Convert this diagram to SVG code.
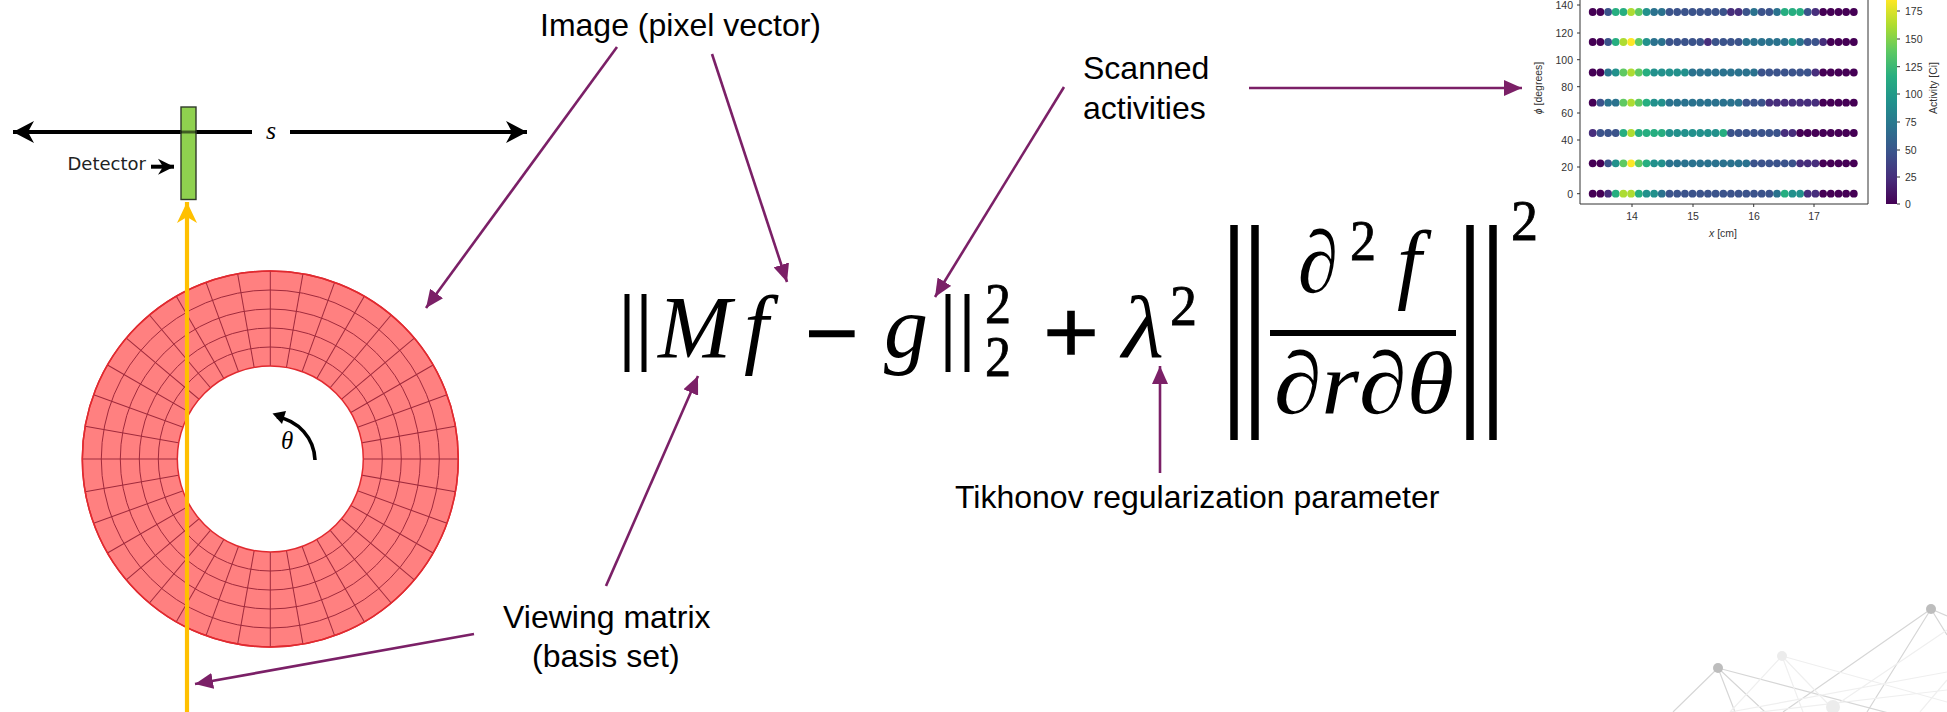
<svg xmlns="http://www.w3.org/2000/svg" width="1947" height="712" viewBox="0 0 1947 712">
<style>
text{font-family:"Liberation Sans",Arial,sans-serif}
.lab{font-size:32px;fill:#000}
.m{font-family:"Liberation Serif","Times New Roman",serif;font-style:italic;fill:#000}
.n{font-family:"Liberation Serif","Times New Roman",serif;fill:#000}
.hv{stroke:#000;stroke-width:.8}
.op{stroke:#000;stroke-width:2.6}
.t{font-family:"DejaVu Sans",sans-serif;font-size:10.5px;fill:#333}
.bar{stroke:#000;fill:none}
.pu{stroke:#7b2067;stroke-width:2.6;fill:none;marker-end:url(#pa)}
.bk{stroke:#000;stroke-width:4;fill:none}
.sp{stroke:#a02a3c;stroke-width:1}
.rg{fill:none;stroke:#a02a3c;stroke-width:1}
.tk{stroke:#333;stroke-width:1}
.nw{stroke:#d6d6d6;stroke-width:1.2;fill:none}
.nf{stroke:#efefef;stroke-width:1.2;fill:none}
circle.a,circle.b,circle.c,circle.d,circle.e,circle.f,circle.g,circle.h,circle.i{r:3.9px}
.a{fill:#440154}.b{fill:#472d7b}.c{fill:#3b528b}.d{fill:#2c728e}.e{fill:#21918c}.f{fill:#28ae80}.g{fill:#5ec962}.h{fill:#addc30}.i{fill:#fde725}
</style>
<defs>
<marker id="pa" markerUnits="userSpaceOnUse" markerWidth="20" markerHeight="16" refX="18" refY="8" orient="auto"><path d="M0 0L18 8L0 16Z" fill="#7b2067"/></marker>
<marker id="ba" markerUnits="userSpaceOnUse" markerWidth="24" markerHeight="24" refX="21" refY="12" orient="auto"><path d="M0 1L21 12L0 23L6 12Z" fill="#000"/></marker>
<marker id="ya" markerUnits="userSpaceOnUse" markerWidth="24" markerHeight="24" refX="21" refY="12" orient="auto"><path d="M0 2L21 12L0 22L6 12Z" fill="#ffc000"/></marker>
<marker id="bs" markerUnits="userSpaceOnUse" markerWidth="18" markerHeight="18" refX="16" refY="9" orient="auto"><path d="M0 1L16 9L0 17L5 9Z" fill="#000"/></marker>
<linearGradient id="vir" x1="0" y1="1" x2="0" y2="0"><stop offset="0" stop-color="#440154"/><stop offset=".125" stop-color="#472d7b"/><stop offset=".25" stop-color="#3b528b"/><stop offset=".375" stop-color="#2c728e"/><stop offset=".5" stop-color="#21918c"/><stop offset=".625" stop-color="#28ae80"/><stop offset=".75" stop-color="#5ec962"/><stop offset=".875" stop-color="#addc30"/><stop offset="1" stop-color="#fde725"/></linearGradient>
<filter id="soft" x="-5%" y="-5%" width="110%" height="110%"><feGaussianBlur stdDeviation="0.5"/></filter>
</defs>
<rect width="1947" height="712" fill="#fff"/>
<g id="network-backdrop">
<path class="nw" d="M1718 668L1673 712M1718 668L1735 712M1718 668L1765 712M1718 668L1900 716M1931 609L1783 712M1931 609L1867 712M1931 609L1947 616M1931 609L1947 635"/>
<path class="nf" d="M1782 656L1730 712M1782 656L1803 712M1782 656L1830 706M1782 656L1947 702M1947 630L1833 707M1947 672L1730 712M1947 690L1760 712M1947 680L1920 712"/>
<circle cx="1718" cy="668" r="5" fill="#bdbdbd"/><circle cx="1931" cy="609" r="5" fill="#bdbdbd"/><circle cx="1782" cy="656" r="5" fill="#ececec"/><circle cx="1833" cy="707" r="7" fill="#ececec"/>
</g>
<g id="ring">
<circle cx="270.3" cy="459" r="188" fill="#ff8080" stroke="#e02a30" stroke-width="1.5"/>
<g class="sp">
<line x1="82.3" y1="459" x2="458.3" y2="459" transform="rotate(0 270.3 459)"/>
<line x1="82.3" y1="459" x2="458.3" y2="459" transform="rotate(10 270.3 459)"/>
<line x1="82.3" y1="459" x2="458.3" y2="459" transform="rotate(20 270.3 459)"/>
<line x1="82.3" y1="459" x2="458.3" y2="459" transform="rotate(30 270.3 459)"/>
<line x1="82.3" y1="459" x2="458.3" y2="459" transform="rotate(40 270.3 459)"/>
<line x1="82.3" y1="459" x2="458.3" y2="459" transform="rotate(50 270.3 459)"/>
<line x1="82.3" y1="459" x2="458.3" y2="459" transform="rotate(60 270.3 459)"/>
<line x1="82.3" y1="459" x2="458.3" y2="459" transform="rotate(70 270.3 459)"/>
<line x1="82.3" y1="459" x2="458.3" y2="459" transform="rotate(80 270.3 459)"/>
<line x1="82.3" y1="459" x2="458.3" y2="459" transform="rotate(90 270.3 459)"/>
<line x1="82.3" y1="459" x2="458.3" y2="459" transform="rotate(100 270.3 459)"/>
<line x1="82.3" y1="459" x2="458.3" y2="459" transform="rotate(110 270.3 459)"/>
<line x1="82.3" y1="459" x2="458.3" y2="459" transform="rotate(120 270.3 459)"/>
<line x1="82.3" y1="459" x2="458.3" y2="459" transform="rotate(130 270.3 459)"/>
<line x1="82.3" y1="459" x2="458.3" y2="459" transform="rotate(140 270.3 459)"/>
<line x1="82.3" y1="459" x2="458.3" y2="459" transform="rotate(150 270.3 459)"/>
<line x1="82.3" y1="459" x2="458.3" y2="459" transform="rotate(160 270.3 459)"/>
<line x1="82.3" y1="459" x2="458.3" y2="459" transform="rotate(170 270.3 459)"/>
</g>
<circle class="rg" cx="270.3" cy="459" r="112"/><circle class="rg" cx="270.3" cy="459" r="131"/><circle class="rg" cx="270.3" cy="459" r="150"/><circle class="rg" cx="270.3" cy="459" r="169"/>
<circle cx="270.3" cy="459" r="188" fill="none" stroke="#e02a30" stroke-width="1.5"/>
<circle cx="270.3" cy="459" r="93" fill="#fff" stroke="#e02a30" stroke-width="1.5"/>
<path d="M315 460A45 45 0 0 0 277 417" fill="none" stroke="#000" stroke-width="3.6"/>
<path d="M272.5 413.5L286 411L282 424Z" fill="#000"/>
<text class="m" x="281" y="449" font-size="25">θ</text>
</g>
<g id="detector">
<line class="bk" x1="252" y1="132" x2="13" y2="132" marker-end="url(#ba)"/>
<line class="bk" x1="290" y1="132" x2="527" y2="132" marker-end="url(#ba)"/>
<rect x="181" y="107" width="15" height="92.5" fill="#8fd14f" stroke="#2f3a2a" stroke-width="1.4"/>
<line x1="181" y1="132" x2="196" y2="132" stroke="#000" stroke-width="3" opacity=".55"/>
<text class="m" x="266" y="139" font-size="26">s</text>
<text id="t-detector" x="67.5" y="170" style="font-family:'DejaVu Sans',sans-serif;font-size:18px;fill:#222">Detector</text>
<line x1="151" y1="166.7" x2="174" y2="166.7" stroke="#000" stroke-width="4" marker-end="url(#bs)"/>
</g>
<line id="beam" x1="187" y1="712" x2="187" y2="202" stroke="#ffc000" stroke-width="4.2" marker-end="url(#ya)"/>
<g id="formula">
<line class="bar" stroke-width="5" x1="627" y1="294" x2="627" y2="372"/><line class="bar" stroke-width="5" x1="644" y1="294" x2="644" y2="372"/><line class="bar" stroke-width="5" x1="948" y1="294" x2="948" y2="372"/><line class="bar" stroke-width="5" x1="967" y1="294" x2="967" y2="372"/>
<text class="m" x="658" y="357" font-size="88">M</text>
<text class="m" x="744" y="357" font-size="88">f</text>
<text class="n op" x="806" y="363" font-size="88" textLength="52" lengthAdjust="spacingAndGlyphs">−</text>
<text class="m" x="884" y="357" font-size="88" textLength="44" lengthAdjust="spacingAndGlyphs">g</text>
<text class="n hv" x="985" y="323" font-size="56" textLength="26" lengthAdjust="spacingAndGlyphs">2</text>
<text class="n hv" x="985" y="376" font-size="56" textLength="26" lengthAdjust="spacingAndGlyphs">2</text>
<text class="n op" x="1044" y="362" font-size="88" textLength="54" lengthAdjust="spacingAndGlyphs">+</text>
<text class="m" x="1122" y="357" font-size="88" textLength="42" lengthAdjust="spacingAndGlyphs">λ</text>
<text class="n hv" x="1170" y="325" font-size="56" textLength="27" lengthAdjust="spacingAndGlyphs">2</text>
<line class="bar" stroke-width="7.5" x1="1234" y1="225" x2="1234" y2="440"/><line class="bar" stroke-width="7.5" x1="1255" y1="225" x2="1255" y2="440"/>
<text class="m" x="1298" y="292" font-size="88" textLength="40" lengthAdjust="spacingAndGlyphs">∂</text>
<text class="n hv" x="1350" y="260" font-size="56" textLength="26" lengthAdjust="spacingAndGlyphs">2</text>
<text class="m" x="1397" y="292" font-size="88">f</text>
<line class="bar" stroke-width="6" x1="1270" y1="333" x2="1456" y2="333"/>
<text class="m" x="1274" y="413" font-size="88" textLength="180" lengthAdjust="spacingAndGlyphs">∂r∂θ</text>
<line class="bar" stroke-width="7.5" x1="1470" y1="225" x2="1470" y2="440"/><line class="bar" stroke-width="7.5" x1="1493" y1="225" x2="1493" y2="440"/>
<text class="n hv" x="1511" y="240" font-size="56" textLength="27" lengthAdjust="spacingAndGlyphs">2</text>
</g>
<g id="labels">
<text class="lab" x="540" y="36">Image (pixel vector)</text>
<text class="lab" x="1083" y="79">Scanned</text>
<text class="lab" x="1083" y="119">activities</text>
<text class="lab" x="955" y="508">Tikhonov regularization parameter</text>
<text class="lab" x="503" y="628">Viewing matrix</text>
<text class="lab" x="532" y="667">(basis set)</text>
</g>
<g id="connectors">
<line class="pu" x1="617" y1="47" x2="426" y2="308"/>
<line class="pu" x1="712" y1="54" x2="787" y2="282"/>
<line class="pu" x1="1064" y1="87" x2="935" y2="297"/>
<line class="pu" x1="1249" y1="88" x2="1522" y2="88"/>
<line class="pu" x1="606" y1="586" x2="698" y2="376"/>
<line class="pu" x1="1160" y1="473" x2="1160" y2="366"/>
<line class="pu" x1="474" y1="634" x2="195" y2="684"/>
</g>
<g id="plot">
<path d="M1580 0V204H1868V0" fill="none" stroke="#333" stroke-width="1"/>
<g filter="url(#soft)">
<g transform="translate(0 12)"><circle cx="1592.7" class="a"/><circle cx="1600.4" class="a"/><circle cx="1608.1" class="c"/><circle cx="1615.7" class="f"/><circle cx="1623.4" class="f"/><circle cx="1631.1" class="h"/><circle cx="1638.8" class="g"/><circle cx="1646.5" class="e"/><circle cx="1654.1" class="d"/><circle cx="1661.8" class="d"/><circle cx="1669.5" class="c"/><circle cx="1677.2" class="c"/><circle cx="1684.9" class="c"/><circle cx="1692.5" class="c"/><circle cx="1700.2" class="c"/><circle cx="1707.9" class="c"/><circle cx="1715.6" class="c"/><circle cx="1723.3" class="c"/><circle cx="1730.9" class="b"/><circle cx="1738.6" class="b"/><circle cx="1746.3" class="c"/><circle cx="1754" class="d"/><circle cx="1761.7" class="c"/><circle cx="1769.3" class="c"/><circle cx="1777" class="d"/><circle cx="1784.7" class="f"/><circle cx="1792.4" class="f"/><circle cx="1800.1" class="f"/><circle cx="1807.7" class="c"/><circle cx="1815.4" class="b"/><circle cx="1823.1" class="a"/><circle cx="1830.8" class="a"/><circle cx="1838.5" class="a"/><circle cx="1846.1" class="a"/><circle cx="1853.8" class="a"/></g>
<g transform="translate(0 42)"><circle cx="1592.7" class="a"/><circle cx="1600.4" class="a"/><circle cx="1608.1" class="c"/><circle cx="1615.7" class="f"/><circle cx="1623.4" class="h"/><circle cx="1631.1" class="i"/><circle cx="1638.8" class="g"/><circle cx="1646.5" class="e"/><circle cx="1654.1" class="d"/><circle cx="1661.8" class="d"/><circle cx="1669.5" class="c"/><circle cx="1677.2" class="c"/><circle cx="1684.9" class="c"/><circle cx="1692.5" class="c"/><circle cx="1700.2" class="c"/><circle cx="1707.9" class="b"/><circle cx="1715.6" class="c"/><circle cx="1723.3" class="c"/><circle cx="1730.9" class="c"/><circle cx="1738.6" class="c"/><circle cx="1746.3" class="d"/><circle cx="1754" class="d"/><circle cx="1761.7" class="d"/><circle cx="1769.3" class="d"/><circle cx="1777" class="d"/><circle cx="1784.7" class="d"/><circle cx="1792.4" class="e"/><circle cx="1800.1" class="d"/><circle cx="1807.7" class="c"/><circle cx="1815.4" class="c"/><circle cx="1823.1" class="b"/><circle cx="1830.8" class="a"/><circle cx="1838.5" class="a"/><circle cx="1846.1" class="a"/><circle cx="1853.8" class="a"/></g>
<g transform="translate(0 72.5)"><circle cx="1592.7" class="a"/><circle cx="1600.4" class="a"/><circle cx="1608.1" class="d"/><circle cx="1615.7" class="e"/><circle cx="1623.4" class="g"/><circle cx="1631.1" class="h"/><circle cx="1638.8" class="g"/><circle cx="1646.5" class="f"/><circle cx="1654.1" class="e"/><circle cx="1661.8" class="e"/><circle cx="1669.5" class="e"/><circle cx="1677.2" class="e"/><circle cx="1684.9" class="e"/><circle cx="1692.5" class="d"/><circle cx="1700.2" class="d"/><circle cx="1707.9" class="d"/><circle cx="1715.6" class="d"/><circle cx="1723.3" class="d"/><circle cx="1730.9" class="d"/><circle cx="1738.6" class="d"/><circle cx="1746.3" class="d"/><circle cx="1754" class="d"/><circle cx="1761.7" class="c"/><circle cx="1769.3" class="c"/><circle cx="1777" class="c"/><circle cx="1784.7" class="c"/><circle cx="1792.4" class="c"/><circle cx="1800.1" class="c"/><circle cx="1807.7" class="c"/><circle cx="1815.4" class="b"/><circle cx="1823.1" class="a"/><circle cx="1830.8" class="a"/><circle cx="1838.5" class="a"/><circle cx="1846.1" class="a"/><circle cx="1853.8" class="a"/></g>
<g transform="translate(0 102.7)"><circle cx="1592.7" class="a"/><circle cx="1600.4" class="c"/><circle cx="1608.1" class="d"/><circle cx="1615.7" class="d"/><circle cx="1623.4" class="g"/><circle cx="1631.1" class="h"/><circle cx="1638.8" class="g"/><circle cx="1646.5" class="f"/><circle cx="1654.1" class="e"/><circle cx="1661.8" class="e"/><circle cx="1669.5" class="d"/><circle cx="1677.2" class="d"/><circle cx="1684.9" class="d"/><circle cx="1692.5" class="d"/><circle cx="1700.2" class="d"/><circle cx="1707.9" class="d"/><circle cx="1715.6" class="d"/><circle cx="1723.3" class="d"/><circle cx="1730.9" class="d"/><circle cx="1738.6" class="d"/><circle cx="1746.3" class="c"/><circle cx="1754" class="c"/><circle cx="1761.7" class="c"/><circle cx="1769.3" class="b"/><circle cx="1777" class="b"/><circle cx="1784.7" class="b"/><circle cx="1792.4" class="b"/><circle cx="1800.1" class="b"/><circle cx="1807.7" class="b"/><circle cx="1815.4" class="b"/><circle cx="1823.1" class="a"/><circle cx="1830.8" class="a"/><circle cx="1838.5" class="a"/><circle cx="1846.1" class="a"/><circle cx="1853.8" class="a"/></g>
<g transform="translate(0 133)"><circle cx="1592.7" class="b"/><circle cx="1600.4" class="c"/><circle cx="1608.1" class="c"/><circle cx="1615.7" class="c"/><circle cx="1623.4" class="f"/><circle cx="1631.1" class="h"/><circle cx="1638.8" class="f"/><circle cx="1646.5" class="f"/><circle cx="1654.1" class="f"/><circle cx="1661.8" class="f"/><circle cx="1669.5" class="e"/><circle cx="1677.2" class="e"/><circle cx="1684.9" class="e"/><circle cx="1692.5" class="e"/><circle cx="1700.2" class="e"/><circle cx="1707.9" class="e"/><circle cx="1715.6" class="e"/><circle cx="1723.3" class="f"/><circle cx="1730.9" class="c"/><circle cx="1738.6" class="c"/><circle cx="1746.3" class="c"/><circle cx="1754" class="c"/><circle cx="1761.7" class="c"/><circle cx="1769.3" class="c"/><circle cx="1777" class="c"/><circle cx="1784.7" class="b"/><circle cx="1792.4" class="b"/><circle cx="1800.1" class="a"/><circle cx="1807.7" class="a"/><circle cx="1815.4" class="a"/><circle cx="1823.1" class="a"/><circle cx="1830.8" class="a"/><circle cx="1838.5" class="a"/><circle cx="1846.1" class="a"/><circle cx="1853.8" class="a"/></g>
<g transform="translate(0 163.3)"><circle cx="1592.7" class="a"/><circle cx="1600.4" class="a"/><circle cx="1608.1" class="c"/><circle cx="1615.7" class="e"/><circle cx="1623.4" class="g"/><circle cx="1631.1" class="i"/><circle cx="1638.8" class="g"/><circle cx="1646.5" class="f"/><circle cx="1654.1" class="e"/><circle cx="1661.8" class="e"/><circle cx="1669.5" class="d"/><circle cx="1677.2" class="d"/><circle cx="1684.9" class="d"/><circle cx="1692.5" class="d"/><circle cx="1700.2" class="d"/><circle cx="1707.9" class="d"/><circle cx="1715.6" class="d"/><circle cx="1723.3" class="d"/><circle cx="1730.9" class="d"/><circle cx="1738.6" class="d"/><circle cx="1746.3" class="d"/><circle cx="1754" class="c"/><circle cx="1761.7" class="c"/><circle cx="1769.3" class="c"/><circle cx="1777" class="c"/><circle cx="1784.7" class="c"/><circle cx="1792.4" class="c"/><circle cx="1800.1" class="b"/><circle cx="1807.7" class="b"/><circle cx="1815.4" class="b"/><circle cx="1823.1" class="a"/><circle cx="1830.8" class="a"/><circle cx="1838.5" class="a"/><circle cx="1846.1" class="a"/><circle cx="1853.8" class="a"/></g>
<g transform="translate(0 193.7)"><circle cx="1592.7" class="a"/><circle cx="1600.4" class="a"/><circle cx="1608.1" class="b"/><circle cx="1615.7" class="f"/><circle cx="1623.4" class="h"/><circle cx="1631.1" class="h"/><circle cx="1638.8" class="f"/><circle cx="1646.5" class="e"/><circle cx="1654.1" class="e"/><circle cx="1661.8" class="d"/><circle cx="1669.5" class="c"/><circle cx="1677.2" class="c"/><circle cx="1684.9" class="c"/><circle cx="1692.5" class="c"/><circle cx="1700.2" class="c"/><circle cx="1707.9" class="c"/><circle cx="1715.6" class="c"/><circle cx="1723.3" class="c"/><circle cx="1730.9" class="c"/><circle cx="1738.6" class="c"/><circle cx="1746.3" class="c"/><circle cx="1754" class="c"/><circle cx="1761.7" class="c"/><circle cx="1769.3" class="c"/><circle cx="1777" class="d"/><circle cx="1784.7" class="f"/><circle cx="1792.4" class="e"/><circle cx="1800.1" class="e"/><circle cx="1807.7" class="b"/><circle cx="1815.4" class="b"/><circle cx="1823.1" class="a"/><circle cx="1830.8" class="a"/><circle cx="1838.5" class="a"/><circle cx="1846.1" class="a"/><circle cx="1853.8" class="a"/></g>
</g>
<path class="tk" d="M1577 5H1580M1577 33H1580M1577 59.7H1580M1577 86.7H1580M1577 113H1580M1577 140H1580M1577 167H1580M1577 193.7H1580M1632 204V207M1693 204V207M1753.7 204V207M1814 204V207"/>
<g class="t" text-anchor="end"><text x="1573" y="9">140</text><text x="1573" y="37">120</text><text x="1573" y="64">100</text><text x="1573" y="91">80</text><text x="1573" y="117">60</text><text x="1573" y="144">40</text><text x="1573" y="171">20</text><text x="1573" y="198">0</text></g>
<g class="t" text-anchor="middle"><text x="1632" y="220">14</text><text x="1693" y="220">15</text><text x="1754" y="220">16</text><text x="1814" y="220">17</text><text x="1723" y="237"><tspan font-style="italic">x</tspan> [cm]</text>
<text transform="translate(1542 88) rotate(-90)"><tspan font-style="italic">ϕ</tspan> [degrees]</text>
<text transform="translate(1937 88) rotate(-90)">Activity [Ci]</text></g>
<rect x="1886" y="0" width="11" height="204" fill="url(#vir)"/>
<path class="tk" d="M1897 11H1900M1897 39H1900M1897 66.7H1900M1897 94H1900M1897 122H1900M1897 150H1900M1897 177H1900M1897 204H1900"/>
<g class="t"><text x="1905" y="15">175</text><text x="1905" y="43">150</text><text x="1905" y="71">125</text><text x="1905" y="98">100</text><text x="1905" y="126">75</text><text x="1905" y="154">50</text><text x="1905" y="181">25</text><text x="1905" y="208">0</text></g>
</g>
</svg>
